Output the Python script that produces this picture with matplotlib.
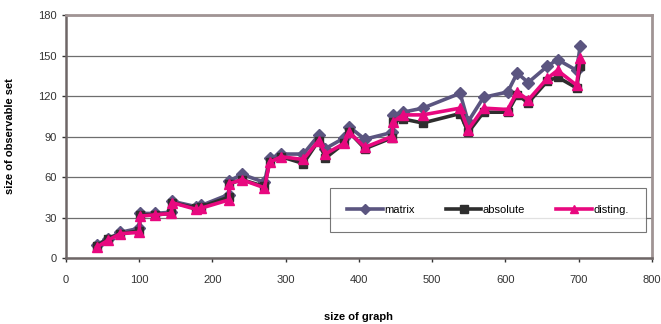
import matplotlib
matplotlib.use("Agg")
import matplotlib.pyplot as plt

graph_size = [42, 57, 74, 100, 101, 122, 144, 145, 178, 185, 222, 223, 240, 271, 278,
              294, 324, 345, 354, 380, 387, 408, 445, 447, 460, 487, 538, 549, 570,
              603, 616, 631, 657, 671, 697, 702]
matrix = [10, 14, 19, 22, 33, 33, 34, 42, 38, 39, 47, 57, 62, 56, 74,
          77, 77, 91, 81, 89, 97, 88, 93, 106, 108, 111, 122, 101, 119,
          123, 137, 130, 142, 147, 139, 157]
absolute = [9, 14, 18, 20, 32, 32, 33, 41, 37, 38, 45, 55, 58, 53, 71,
            75, 70, 87, 74, 85, 93, 81, 89, 101, 103, 100, 107, 93, 108,
            108, 121, 115, 131, 134, 126, 142]
disting = [8, 13, 18, 19, 31, 32, 33, 41, 36, 37, 43, 55, 58, 52, 71,
           75, 73, 87, 77, 85, 93, 82, 90, 101, 106, 106, 111, 95, 111,
           110, 123, 117, 133, 139, 128, 148]

series_names = ["matrix", "absolute", "disting."]
x_ticks = [0, 100, 200, 300, 400, 500, 600, 700, 800]
y_ticks = [0, 30, 60, 90, 120, 150, 180]

plt.rcParams['font.family'] = ['Liberation Sans', 'DejaVu Sans']

fig = plt.figure(figsize=(6.61, 3.24), dpi=100)
ax = fig.add_axes([0.0998, 0.2037, 0.8866, 0.75])

ax.plot(graph_size, matrix, color="#5b5580", lw=2.6, marker="D", ms=6,
        mec="#5b5580", mfc="#5b5580", label=series_names[0], zorder=3)
ax.plot(graph_size, absolute, color="#2e2e2e", lw=2.6, marker="s", ms=6,
        mec="#2e2e2e", mfc="#2e2e2e", label=series_names[1], zorder=4)
ax.plot(graph_size, disting, color="#e8087f", lw=2.6, marker="^", ms=7.5,
        mec="#e8087f", mfc="#e8087f", label=series_names[2], zorder=5)

ax.set_xlim(0, 800)
ax.set_ylim(0, 180)
ax.set_xticks(x_ticks)
ax.set_yticks(y_ticks)
ax.yaxis.grid(True, color="#6e6e6e", lw=0.9)
ax.set_axisbelow(True)

for side in ["top", "right"]:
    ax.spines[side].set_color("#a09494")
    ax.spines[side].set_linewidth(2)
for side in ["left", "bottom"]:
    ax.spines[side].set_color("#6e6666")
    ax.spines[side].set_linewidth(1.8)

ax.tick_params(axis="both", labelsize=8, colors="#333333", length=3, width=1)
ax.tick_params(axis="x", pad=9)

ax.set_xlabel("size of graph", fontsize=8, fontweight="bold", labelpad=20)
ax.set_ylabel("size of observable set", fontsize=8, fontweight="bold", labelpad=17)

leg = ax.legend(loc="lower left", bbox_to_anchor=(0.4505, 0.107, 0.5393, 0.193),
                mode="expand", ncol=3, fontsize=8, frameon=True, fancybox=False,
                edgecolor="#555555", handlelength=3.2, borderpad=1.55,
                handletextpad=0.15, borderaxespad=0, markerscale=0.85)
leg.get_frame().set_linewidth(0.8)
leg.set_zorder(6)

fig.savefig("out.png", dpi=100)
